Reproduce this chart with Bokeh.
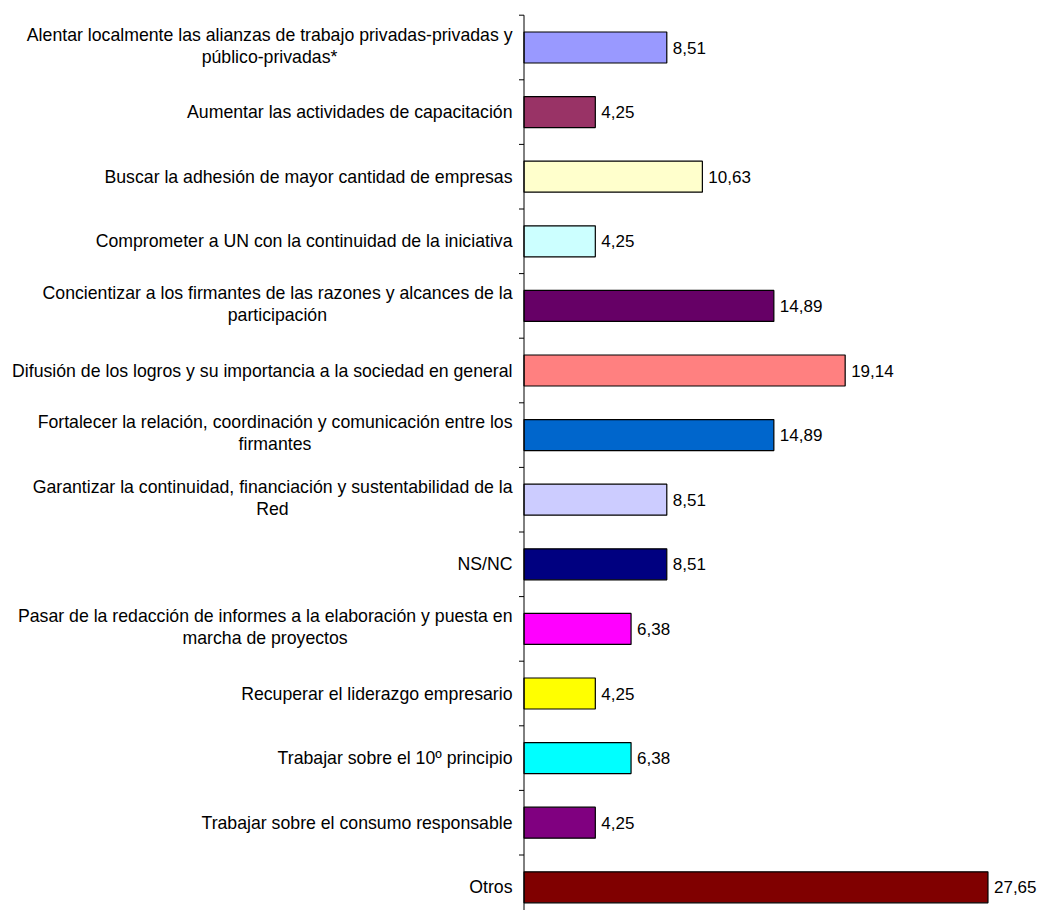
import numpy as np
from bokeh.plotting import figure
from bokeh.models import ColumnDataSource, Range1d
from bokeh.core.properties import value
from bokeh.embed import file_html
from bokeh.resources import INLINE

# ---------------- data ----------------
categories = [
    "Alentar localmente las alianzas de trabajo privadas-privadas y\npúblico-privadas*",
    "Aumentar las actividades de capacitación",
    "Buscar la adhesión de mayor cantidad de empresas",
    "Comprometer a UN con la continuidad de la iniciativa",
    "Concientizar a los firmantes de las razones y alcances de la\nparticipación",
    "Difusión de los logros y su importancia a la sociedad en general",
    "Fortalecer la relación, coordinación y comunicación entre los\nfirmantes",
    "Garantizar la continuidad, financiación y sustentabilidad de la\nRed",
    "NS/NC",
    "Pasar de la redacción de informes a la elaboración y puesta en\nmarcha de proyectos",
    "Recuperar el liderazgo empresario",
    "Trabajar sobre el 10º principio",
    "Trabajar sobre el consumo responsable",
    "Otros",
]
values = [8.51, 4.25, 10.63, 4.25, 14.89, 19.14, 14.89, 8.51, 8.51, 6.38, 4.25, 6.38, 4.25, 27.65]
colors = ["#9999FF", "#993366", "#FFFFCC", "#CCFFFF", "#660066", "#FF8080", "#0066CC",
          "#CCCCFF", "#000080", "#FF00FF", "#FFFF00", "#00FFFF", "#800080", "#800000"]

# ---------------- layout ----------------
FIG_W, FIG_H = 1040, 910
PX_X = 16.78          # pixels per value unit
AXIS_PX = 523.5       # axis position inside the figure
CAT_PX = 64.6         # pixels per category
TOP_PX = 14.7         # first boundary below figure top
FONT = "Liberation Sans"
LABEL_SIZE = 17.7
VALUE_SIZE = 17

# Arial / Liberation Sans advance widths (1/1000 em)
W = {' ': 278, '*': 389, ',': 278, '-': 333, '.': 278, '/': 278, 'º': 365,
     'á': 556, 'é': 556, 'í': 278, 'ó': 556, 'ú': 556, 'ñ': 556}
for ch in "0123456789":
    W[ch] = 556
for ch, w in zip("ABCDEFGHIJKLMNOPQRSTUVWXYZ",
                 [667, 667, 722, 722, 667, 611, 778, 722, 278, 500, 667, 556, 833,
                  722, 778, 667, 778, 722, 667, 611, 722, 667, 944, 667, 667, 611]):
    W[ch] = w
for ch, w in zip("abcdefghijklmnopqrstuvwxyz",
                 [556, 556, 500, 556, 556, 278, 556, 556, 222, 222, 500, 222, 833,
                  556, 556, 556, 556, 333, 500, 278, 556, 500, 722, 500, 500, 500]):
    W[ch] = w


def text_px(s, size):
    return sum(W.get(c, 556) for c in s) * size / 1000.0


n = len(categories)
y = np.arange(n)

x_start = -AXIS_PX / PX_X
x_end = (FIG_W - AXIS_PX) / PX_X
y_end = -0.5 - TOP_PX / CAT_PX
y_start = y_end + FIG_H / CAT_PX

p = figure(width=FIG_W, height=FIG_H, output_backend="svg", toolbar_location=None,
           x_range=Range1d(x_start, x_end), y_range=Range1d(y_start, y_end),
           x_axis_location=None, y_axis_location=None, min_border=0,
           outline_line_color=None, background_fill_color="white",
           border_fill_color="white")
p.xgrid.visible = False
p.ygrid.visible = False

# bars
src = ColumnDataSource(dict(y=y, v=values, c=colors,
                            lbl=[f"{v:.2f}".replace(".", ",") for v in values]))
p.hbar(y="y", right="v", left=0, height=0.48, fill_color="c", line_color="black",
       line_width=1.2, source=src)

# value labels
p.text(x="v", y="y", text="lbl", source=src, x_offset=6, text_align="left",
       text_baseline="middle", text_font=value(FONT), text_font_size=f"{VALUE_SIZE}px",
       text_color="black")

# axis line and ticks at category boundaries
bounds = np.arange(n + 1) - 0.5
p.segment(x0=[0], y0=[-0.5], x1=[0], y1=[n - 0.5], line_color="black", line_width=1)
tick = 5 / PX_X
p.segment(x0=[-tick] * len(bounds), y0=bounds, x1=[0] * len(bounds), y1=bounds,
          line_color="black", line_width=1)

# category labels
label_right = -11.5 / PX_X
r_x, r_y, r_t, r_o = [], [], [], []
c_x, c_y, c_t = [], [], []
for i, cat in enumerate(categories):
    lines = cat.split("\n")
    if len(lines) == 1:
        r_x.append(label_right); r_y.append(i); r_t.append(lines[0]); r_o.append(0)
    else:
        w1 = text_px(lines[0], LABEL_SIZE) / PX_X
        r_x.append(label_right); r_y.append(i); r_t.append(lines[0]); r_o.append(-13)
        c_x.append(label_right - w1 / 2); c_y.append(i); c_t.append(lines[1])

p.text(x="x", y="y", text="t", y_offset="o",
       source=ColumnDataSource(dict(x=r_x, y=r_y, t=r_t, o=r_o)),
       text_align="right", text_baseline="middle", text_font=value(FONT),
       text_font_size=f"{LABEL_SIZE}px", text_color="black")
p.text(x="x", y="y", text="t", y_offset=9,
       source=ColumnDataSource(dict(x=c_x, y=c_y, t=c_t)),
       text_align="center", text_baseline="middle", text_font=value(FONT),
       text_font_size=f"{LABEL_SIZE}px", text_color="black")

open("out.html", "w").write(file_html(p, INLINE))
